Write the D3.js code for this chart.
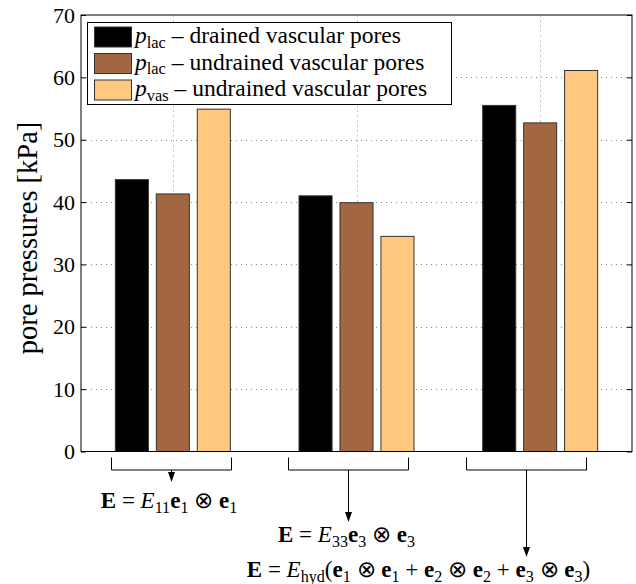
<!DOCTYPE html>
<html>
<head>
<meta charset="utf-8">
<script src="https://cdn.jsdelivr.net/npm/d3@7"></script>
<style>
  body { margin: 0; background: #fff; }
  svg { display: block; }
</style>
</head>
<body>
<script>
// data
var groups = [1, 2, 3];
var drained = [43.6, 41.0, 55.5];     // p_lac drained vascular pores
var undrained = [41.3, 39.9, 52.7];   // p_lac undrained vascular pores
var vas = [54.9, 34.5, 61.1];         // p_vas undrained vascular pores
var yTicks = [0, 10, 20, 30, 40, 50, 60, 70];
var seriesNames = [
  [['p', 'i'], ['lac', 'sub'], [' \u2013 drained vascular pores', 'r']],
  [['p', 'i'], ['lac', 'sub'], [' \u2013 undrained vascular pores', 'r']],
  [['p', 'i'], ['vas', 'sub'], [' \u2013 undrained vascular pores', 'r']]
];
var colors = ['#000000', '#a26741', '#fec880'];
// load case labels under the groups
var loadLabels = [
  [['E', 'b'], [' = ', 'r'], ['E', 'i'], ['11', 'sub'], ['e', 'b'], ['1', 'sub'], [' \u2297 ', 'r'], ['e', 'b'], ['1', 'sub']],
  [['E', 'b'], [' = ', 'r'], ['E', 'i'], ['33', 'sub'], ['e', 'b'], ['3', 'sub'], [' \u2297 ', 'r'], ['e', 'b'], ['3', 'sub']],
  [['E', 'b'], [' = ', 'r'], ['E', 'i'], ['hyd', 'sub'], ['(', 'r'], ['e', 'b'], ['1', 'sub'], [' \u2297 ', 'r'], ['e', 'b'], ['1', 'sub'],
   [' + ', 'r'], ['e', 'b'], ['2', 'sub'], [' \u2297 ', 'r'], ['e', 'b'], ['2', 'sub'],
   [' + ', 'r'], ['e', 'b'], ['3', 'sub'], [' \u2297 ', 'r'], ['e', 'b'], ['3', 'sub'], [')', 'r']]
];
var bracketX = [0.99, 1.955, 2.925];

var series = [drained, undrained, vas];
var W = 636, H = 584;
var margin = { top: 15, right: 4, bottom: 133, left: 81 };
var FONT = 'Liberation Serif';

var svg = d3.select('body').append('svg')
  .attr('width', W)
  .attr('height', H)
  .attr('font-family', FONT);

var x = d3.scaleLinear().domain([0.5, 3.5]).range([margin.left, W - margin.right]);
var y = d3.scaleLinear().domain([0, 70]).range([H - margin.bottom + 0.5, margin.top]);

var offsets = [-0.223, 0, 0.223];
var barW = 0.18;

// grid
var grid = svg.append('g').attr('stroke', '#8a8a8a').attr('stroke-dasharray', '1,4').attr('stroke-width', 1);
yTicks.slice(1, -1).forEach(function (t) {
  grid.append('line')
    .attr('x1', x(0.5)).attr('x2', x(3.5))
    .attr('y1', Math.round(y(t)) + 0.5).attr('y2', Math.round(y(t)) + 0.5);
});
groups.forEach(function (g) {
  grid.append('line')
    .attr('x1', Math.round(x(g)) + 0.5).attr('x2', Math.round(x(g)) + 0.5)
    .attr('y1', y(0)).attr('y2', y(70));
});

// bars
series.forEach(function (s, i) {
  svg.append('g').selectAll('rect')
    .data(s)
    .enter()
    .append('rect')
    .attr('x', function (d, j) { return x(groups[j] + offsets[i] - barW / 2); })
    .attr('width', x(barW) - x(0))
    .attr('y', function (d) { return y(d); })
    .attr('height', function (d) { return y(0) - y(d); })
    .attr('fill', colors[i])
    .attr('stroke', '#333')
    .attr('stroke-width', 1);
});

// frame + axes
svg.append('rect')
  .attr('x', x(0.5)).attr('y', y(70))
  .attr('width', x(3.5) - x(0.5)).attr('height', y(0) - y(70))
  .attr('fill', 'none').attr('stroke', '#000').attr('stroke-width', 1);

var yAxis = d3.axisLeft(y).tickValues(yTicks).tickSize(-5).tickPadding(6).tickFormat(d3.format('d'));
var ax = svg.append('g')
  .attr('transform', 'translate(' + x(0.5) + ',0)')
  .call(yAxis);
ax.attr('font-family', FONT).attr('font-size', 22);
ax.select('.domain').remove();
ax.selectAll('text')
  .attr('font-family', FONT)
  .attr('font-size', 22)
  .attr('fill', '#000');
ax.selectAll('line').attr('stroke', '#000');
svg.append('g')
  .attr('transform', 'translate(' + x(3.5) + ',0)')
  .call(d3.axisRight(y).tickValues(yTicks).tickSize(-5).tickFormat(''))
  .call(function (g) { g.select('.domain').remove(); g.selectAll('line').attr('stroke', '#000'); });

svg.append('text')
  .attr('transform', 'translate(37,' + 238 + ') rotate(-90)')
  .attr('text-anchor', 'middle')
  .attr('font-family', FONT)
  .attr('font-size', 28.5)
  .text('pore pressures [kPa]');

// rich text helper: subscripts lowered with dy, next part raised back
function rich(sel, parts, size) {
  var down = 0;
  parts.forEach(function (p) {
    var t = sel.append('tspan').text(p[0]);
    if (p[1] === 'b') t.attr('font-weight', 'bold');
    if (p[1] === 'i') t.attr('font-style', 'italic');
    if (p[1] === 'sub') {
      t.attr('font-size', size * 0.7).attr('dy', size * 0.2 - down);
      down = size * 0.2;
    } else if (down) {
      t.attr('dy', -down);
      down = 0;
    }
  });
}

// legend
var lg = svg.append('g');
lg.append('rect')
  .attr('x', 87.5).attr('y', 22.5).attr('width', 364).attr('height', 82)
  .attr('fill', '#fff').attr('stroke', '#000');
seriesNames.forEach(function (n, i) {
  var ry = 27 + i * 26.5;
  lg.append('rect')
    .attr('x', 94.5).attr('y', ry).attr('width', 37).attr('height', 20)
    .attr('fill', colors[i]).attr('stroke', '#333');
  var t = lg.append('text').attr('x', 135).attr('y', ry + 16)
    .attr('font-family', FONT).attr('font-size', 23.5);
  rich(t, n, 23.5);
});

// load-case brackets and arrows
var bTop = y(0) + 6, bBot = y(0) + 18.5;
var arrowTips = [482, 522, 557];
var labelY = [508, 542, 577];
var labelX = [169, 346.5, 418.5];
bracketX.forEach(function (c, i) {
  var l = Math.round(x(c - 0.327)) + 0.5, r = Math.round(x(c + 0.327)) + 0.5, m = Math.round(x(c)) + 0.5;
  svg.append('path')
    .attr('d', 'M' + l + ',' + bTop + 'V' + bBot + 'H' + r + 'V' + bTop)
    .attr('fill', 'none').attr('stroke', '#000');
  svg.append('line')
    .attr('x1', m).attr('x2', m).attr('y1', bBot).attr('y2', arrowTips[i] - 8)
    .attr('stroke', '#000');
  svg.append('path')
    .attr('d', 'M' + (m - 3.5) + ',' + (arrowTips[i] - 10) + 'L' + (m + 3.5) + ',' + (arrowTips[i] - 10) + 'L' + m + ',' + arrowTips[i] + 'Z')
    .attr('fill', '#000');
  var t = svg.append('text')
    .attr('x', labelX[i]).attr('y', labelY[i])
    .attr('text-anchor', 'middle')
    .attr('font-family', FONT)
    .attr('font-size', 23);
  rich(t, loadLabels[i], 23);
});
</script>
</body>
</html>
